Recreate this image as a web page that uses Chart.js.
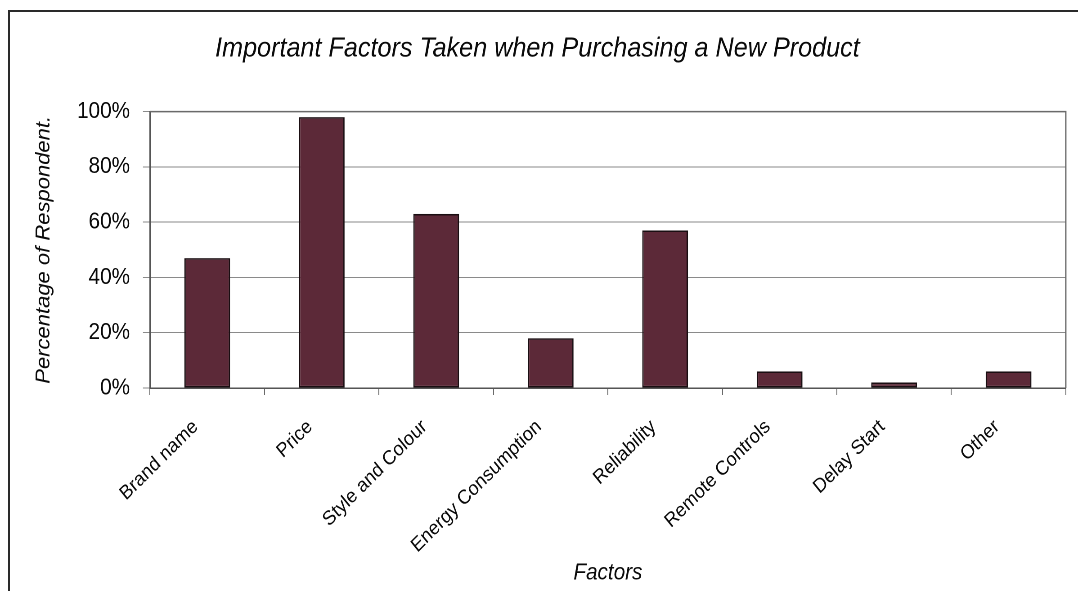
<!DOCTYPE html>
<html>
<head>
<meta charset="utf-8">
<script src="https://cdn.jsdelivr.net/npm/chart.js@4.4.1/dist/chart.umd.min.js"></script>
<style>
  html, body { margin: 0; padding: 0; background: #fff; overflow: hidden; }
</style>
</head>
<body>
<canvas id="c"></canvas>
<script>
// Survey results: share of respondents naming each factor
const categories = ['Brand name', 'Price', 'Style and Colour', 'Energy Consumption',
                    'Reliability', 'Remote Controls', 'Delay Start', 'Other'];
const percentages = [47, 98, 63, 18, 57, 6, 2, 6];
const yTickValues = [0, 20, 40, 60, 80, 100];

const FONT = 'Liberation Sans, Arial, sans-serif';
const TEXT = '#0a0a0a';

// The chart is laid out on a wider canvas and shown horizontally narrowed,
// which gives the tall, condensed lettering of the original office chart.
const SX = 0.9;
const VIEW_W = 1078, VIEW_H = 591;
const W = Math.round(VIEW_W / SX);
const px = v => v / SX;   // horizontal page pixels -> canvas units

const canvas = document.getElementById('c');
canvas.setAttribute('width', W);
canvas.setAttribute('height', VIEW_H);
canvas.style.width = VIEW_W + 'px';
canvas.style.height = VIEW_H + 'px';

// White page with the outer frame line on the left and top
const framePlugin = {
  id: 'frame',
  beforeDraw(chart) {
    const ctx = chart.ctx;
    ctx.save();
    ctx.fillStyle = '#fff';
    ctx.fillRect(0, 0, chart.width, chart.height);
    ctx.strokeStyle = '#2a2a2a';
    ctx.lineWidth = 2;
    ctx.strokeRect(px(9), 11, chart.width + 20, chart.height + 20);
    ctx.restore();
  }
};

// Top and right edges of the plot area box
const plotBoxPlugin = {
  id: 'plotBox',
  afterDatasetsDraw(chart) {
    const { ctx, chartArea: a } = chart;
    ctx.save();
    ctx.strokeStyle = '#6a6a6a';
    ctx.lineWidth = 1.5;
    ctx.beginPath();
    ctx.moveTo(a.left, a.top);
    ctx.lineTo(a.right, a.top);
    ctx.lineTo(a.right, a.bottom);
    ctx.stroke();
    ctx.restore();
  }
};

const plotLeft = px(150), plotRight = px(1066);
const padLeft = 10;

new Chart(canvas, {
  type: 'bar',
  data: {
    labels: categories,
    datasets: [{
      data: percentages,
      backgroundColor: '#5c2938',
      borderColor: '#1a0e12',
      borderWidth: 1.6,
      borderSkipped: false,
      barPercentage: 0.4,
      categoryPercentage: 1.0
    }]
  },
  options: {
    responsive: false,
    devicePixelRatio: 2,
    animation: false,
    events: [],
    layout: { padding: { left: padLeft, right: W - plotRight, top: 0, bottom: 0 } },
    plugins: {
      legend: { display: false },
      tooltip: { enabled: false },
      title: {
        display: true,
        text: 'Important Factors Taken when Purchasing a New Product',
        color: TEXT,
        font: { family: FONT, size: 28, style: 'italic', weight: 'normal', lineHeight: 1.2 },
        padding: { top: 32, bottom: 46 }
      }
    },
    scales: {
      x: {
        grid: {
          offset: true,
          drawOnChartArea: false,
          drawTicks: true,
          tickLength: 7,
          color: '#6a6a6a'
        },
        border: { display: true, color: '#555', width: 1.5 },
        ticks: {
          color: TEXT,
          font: { family: FONT, size: 20 },
          maxRotation: 42,
          minRotation: 42,
          autoSkip: false,
          padding: 20,
          labelOffset: -13
        },
        title: {
          display: true,
          text: 'Factors',
          color: TEXT,
          font: { family: FONT, size: 23, style: 'italic', lineHeight: 1.2 },
          padding: { top: 0, bottom: 4 }
        },
        afterFit(scale) { scale.height = VIEW_H - 388; }
      },
      y: {
        min: 0,
        max: 100,
        afterBuildTicks(scale) { scale.ticks = yTickValues.map(v => ({ value: v })); },
        grid: {
          color: '#8a8a8a',
          lineWidth: 1,
          drawTicks: true,
          tickLength: px(7)
        },
        border: { display: true, color: '#555', width: 1.5 },
        ticks: {
          color: TEXT,
          font: { family: FONT, size: 23 },
          padding: px(13),
          callback: v => v + '%'
        },
        title: {
          display: true,
          text: 'Percentage of Respondent.',
          color: TEXT,
          font: { family: FONT, size: 22, style: 'italic', lineHeight: 1.2 },
          padding: { top: px(44) - padLeft - 13.2, bottom: 0 }
        },
        afterFit(scale) { scale.width = plotLeft - padLeft; }
      }
    }
  },
  plugins: [framePlugin, plotBoxPlugin]
});
</script>
</body>
</html>
